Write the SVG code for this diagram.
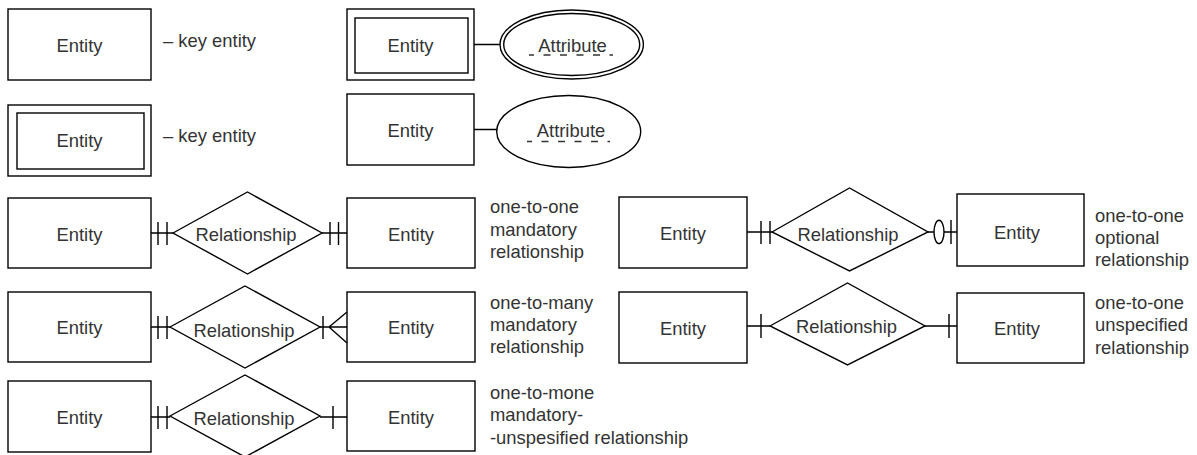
<svg xmlns="http://www.w3.org/2000/svg" width="1197" height="455" viewBox="0 0 1197 455">
<style>
.box{fill:#fff;stroke:#000;stroke-width:1.4}
.ln{fill:none;stroke:#000;stroke-width:1.4}
.t{font-family:"Liberation Sans",Arial,sans-serif;font-size:18.4px;fill:#333}
.c{text-anchor:middle}
.dash{fill:none;stroke:#333;stroke-width:1.4;stroke-dasharray:7 9.5}
</style>
<rect width="1197" height="455" fill="#fff"/>
<!-- legend -->
<g id="key-entity">
<rect class="box" x="8" y="9" width="143" height="71"/>
<text class="t c" x="79.5" y="51.5">Entity</text>
</g>
<text class="t" x="163" y="46.5">– key entity</text>
<g id="weak-entity">
<rect class="box" x="8" y="105" width="143" height="71"/>
<rect class="box" x="17" y="113" width="127" height="56"/>
<text class="t c" x="79.5" y="146.5">Entity</text>
</g>
<text class="t" x="163" y="141.5">– key entity</text>
<g id="entity-a1">
<rect class="box" x="347" y="9" width="127" height="71"/>
<rect class="box" x="355" y="18" width="113" height="55"/>
<text class="t c" x="410.5" y="52">Entity</text>
</g>
<g id="attr-1">
<ellipse class="box" cx="571.7" cy="44.5" rx="71.7" ry="34.5"/>
<ellipse class="box" cx="571.7" cy="44.5" rx="68" ry="31"/>
<text class="t c" x="572.5" y="52">Attribute</text>
<line class="dash" x1="529" y1="55" x2="613" y2="55" stroke-dashoffset="2"/>
</g>
<g id="entity-a2">
<rect class="box" x="347" y="94" width="127" height="71"/>
<text class="t c" x="410.5" y="137">Entity</text>
</g>
<g id="attr-2">
<ellipse class="box" cx="568.7" cy="131.5" rx="72" ry="36"/>
<text class="t c" x="571" y="137">Attribute</text>
<line class="dash" x1="527" y1="141.5" x2="610" y2="141.5" stroke-dashoffset="2"/>
</g>
<!-- row 1 left -->
<g id="r1-e1"><rect class="box" x="8" y="198" width="143" height="70"/><text class="t c" x="79.5" y="240.5">Entity</text></g>
<g id="r1-rel"><polygon class="box" points="173,233 247.5,192 322,233 247.5,274"/><text class="t c" x="246" y="241">Relationship</text></g>
<g id="r1-e2"><rect class="box" x="347" y="198" width="128" height="70"/><text class="t c" x="411" y="240.5">Entity</text></g>
<text class="t" x="490" y="213">one-to-one</text>
<text class="t" x="490" y="235.5">mandatory</text>
<text class="t" x="490" y="258">relationship</text>
<!-- row 2 left -->
<g id="r2-e1"><rect class="box" x="8" y="292" width="143" height="70"/><text class="t c" x="79.5" y="334">Entity</text></g>
<g id="r2-rel"><polygon class="box" points="170,327 245,286 320,327 245,368"/><text class="t c" x="244" y="336.5">Relationship</text></g>
<g id="r2-e2"><rect class="box" x="347" y="292" width="128" height="70"/><text class="t c" x="411" y="334">Entity</text></g>
<text class="t" x="490" y="308.5">one-to-many</text>
<text class="t" x="490" y="331">mandatory</text>
<text class="t" x="490" y="353">relationship</text>
<!-- row 3 left -->
<g id="r3-e1"><rect class="box" x="8" y="381" width="143" height="71"/><text class="t c" x="79.5" y="423.5">Entity</text></g>
<g id="r3-rel"><polygon class="box" points="170,416 245,375 320,416 245,457"/><text class="t c" x="244" y="425">Relationship</text></g>
<g id="r3-e2"><rect class="box" x="347" y="381" width="128" height="70"/><text class="t c" x="411" y="423.5">Entity</text></g>
<text class="t" x="490" y="398.5">one-to-mone</text>
<text class="t" x="490" y="421">mandatory-</text>
<text class="t" x="490" y="443.5">-unspesified relationship</text>
<!-- right row 1 -->
<g id="rr1-e1"><rect class="box" x="619" y="197" width="128" height="71"/><text class="t c" x="683" y="240">Entity</text></g>
<g id="rr1-rel"><polygon class="box" points="772,232 849.5,188 928,232 849.5,271"/><text class="t c" x="848" y="240.5">Relationship</text></g>
<g id="rr1-e2"><rect class="box" x="957" y="194" width="127" height="72"/><text class="t c" x="1017" y="238.5">Entity</text></g>
<text class="t" x="1095" y="221.5">one-to-one</text>
<text class="t" x="1095" y="244">optional</text>
<text class="t" x="1095" y="266">relationship</text>
<!-- right row 2 -->
<g id="rr2-e1"><rect class="box" x="619" y="292" width="128" height="71"/><text class="t c" x="683" y="335">Entity</text></g>
<g id="rr2-rel"><polygon class="box" points="770,326 847.5,283 925,326 847.5,365"/><text class="t c" x="846.5" y="333">Relationship</text></g>
<g id="rr2-e2"><rect class="box" x="957" y="293" width="127" height="70"/><text class="t c" x="1017" y="335">Entity</text></g>
<text class="t" x="1095" y="308.5">one-to-one</text>
<text class="t" x="1095" y="331">unspecified</text>
<text class="t" x="1095" y="353.5">relationship</text>
<!-- connectors -->
<g id="connectors" class="ln">
<path class="ln" d="M474,44.5H500 M474,129.5H497"/>
<!-- r1 -->
<path class="ln" d="M151,233H173 M158,222V245 M167,222V245 M322,233H347 M330,222V245 M338.5,222V245"/>
<!-- r2 -->
<path class="ln" d="M151,327H170 M158,316V339 M167,316V339 M320,327H347 M323,316V339 M329,327L347,312 M329,327L347,343"/>
<!-- r3 -->
<path class="ln" d="M151,417H170 M158,406V429 M167,406V429 M320,417H347 M333,406V429"/>
<!-- rr1 -->
<path class="ln" d="M747,232H772 M761,221V244 M770,221V244 M928,232H957 M951,220V244"/>
<ellipse class="box" cx="939" cy="232" rx="5" ry="11.7"/>
<!-- rr2 -->
<path class="ln" d="M747,326H770 M761,314V338 M925,326H957 M949,314V338"/>
</g>
</svg>
